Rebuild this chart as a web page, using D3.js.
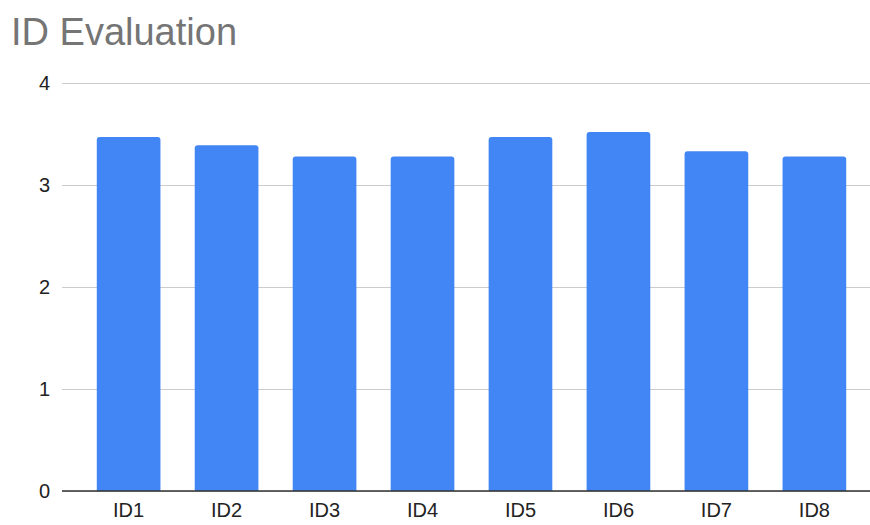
<!DOCTYPE html>
<html>
<head>
<meta charset="utf-8">
<script src="https://cdn.jsdelivr.net/npm/d3@7"></script>
<style>
  html, body { margin: 0; padding: 0; background: #fff; overflow: hidden; }
  svg { display: block; }
  text { font-family: "Liberation Sans", Arial, sans-serif; }
</style>
</head>
<body>
<div id="chartContainer"></div>
<script>
// Chart data
const categories = ["ID1", "ID2", "ID3", "ID4", "ID5", "ID6", "ID7", "ID8"];
const scores = [3.47, 3.39, 3.28, 3.28, 3.47, 3.52, 3.33, 3.28];
const yTicks = [0, 1, 2, 3, 4];

const w = 870;
const h = 525;

// the band range runs a little past the right edge, as in the reference
const margins = { top: 83, left: 62, bottom: 34, right: -11 };
const innerWidth = w - margins.left - margins.right;
const innerHeight = h - margins.top - margins.bottom;

const svg = d3.select("#chartContainer")
  .append("svg")
    .attr("width", w)
    .attr("height", h);

// Title
svg.append("text")
  .text("ID Evaluation")
  .attr("x", 11)
  .attr("y", 45)
  .attr("font-size", 38)
  .attr("fill", "#757575");

const mainG = svg.append("g")
  .attr("transform", `translate(${margins.left}, ${margins.top})`);

const xScale = d3.scaleBand()
  .domain(categories)
  .range([0, innerWidth])
  .paddingInner(0.35)
  .paddingOuter(0.355);

const yScale = d3.scaleLinear()
  .domain([0, 4])
  .range([innerHeight, 0]);

// Gridlines + y labels
const yAxis = mainG.append("g")
  .call(d3.axisLeft(yScale)
    .tickValues(yTicks)
    .tickSize(-(w - margins.left))
    .tickPadding(12)
    .tickFormat(d3.format("d")));
yAxis.select(".domain").remove();
yAxis.selectAll(".tick line").attr("stroke", "#cccccc");
yAxis.selectAll(".tick text")
  .attr("font-size", 20)
  .attr("fill", "#222")
  .attr("font-family", "Liberation Sans, Arial, sans-serif");

// Bars with slightly rounded tops
mainG.selectAll(".bar")
  .data(scores)
  .enter()
  .append("path")
    .attr("class", "bar")
    .attr("fill", "#4285f4")
    .attr("d", (d, i) => {
      const x0 = xScale(categories[i]);
      const bw = xScale.bandwidth();
      const y0 = yScale(d);
      const y1 = yScale(0);
      const r = 3;
      return `M${x0},${y1} V${y0 + r} Q${x0},${y0} ${x0 + r},${y0} H${x0 + bw - r} Q${x0 + bw},${y0} ${x0 + bw},${y0 + r} V${y1} Z`;
    });

// x axis
const xAxis = mainG.append("g")
  .attr("transform", `translate(0, ${innerHeight})`)
  .call(d3.axisBottom(xScale).tickSize(0).tickPadding(12));
xAxis.select(".domain").remove();
xAxis.selectAll(".tick text")
  .attr("font-size", 20)
  .attr("fill", "#222")
  .attr("font-family", "Liberation Sans, Arial, sans-serif");

mainG.append("line")
  .attr("x1", 0)
  .attr("x2", w - margins.left)
  .attr("y1", innerHeight)
  .attr("y2", innerHeight)
  .attr("stroke", "#333")
  .attr("stroke-width", 1.5);
</script>
</body>
</html>
